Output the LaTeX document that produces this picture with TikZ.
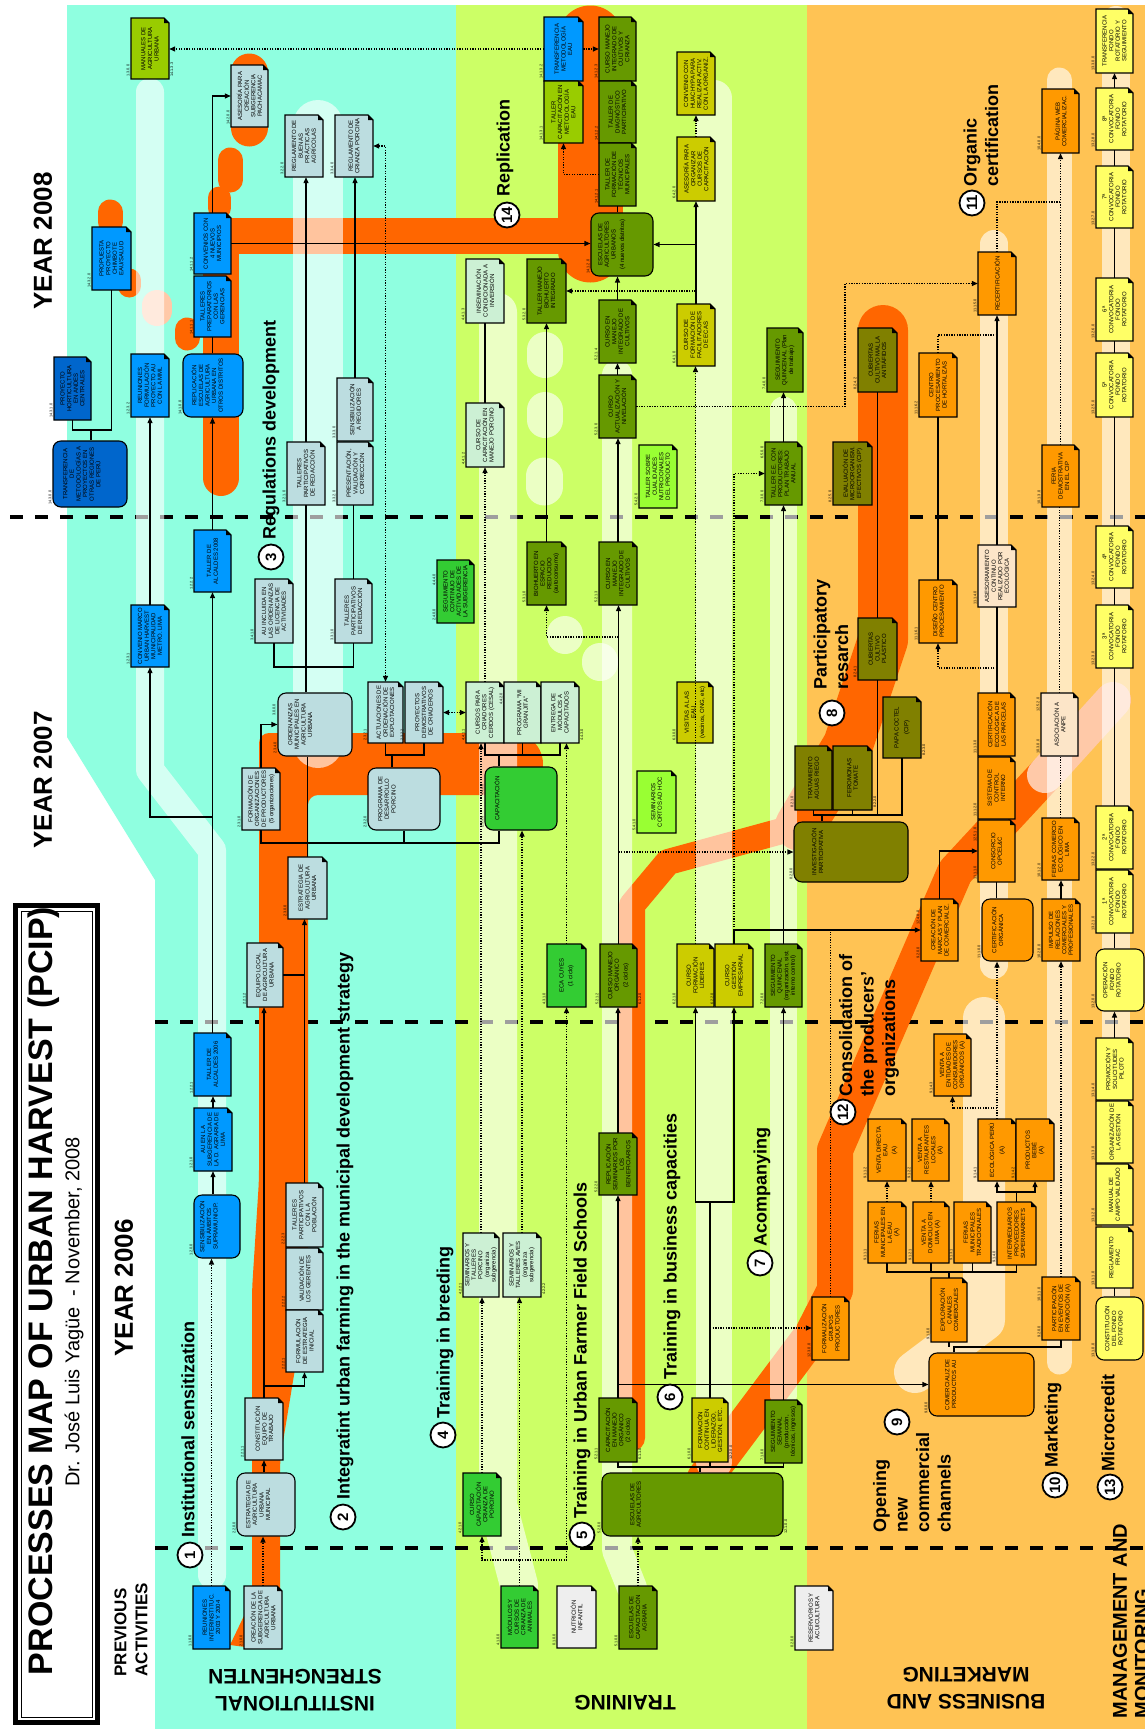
\documentclass[tikz,border=0pt]{standalone}
\usepackage{fontspec}
\setmainfont{Liberation Sans}
\usepackage{graphicx}
\usetikzlibrary{arrows.meta,calc}

\definecolor{bgC}{HTML}{8FFFE0}
\definecolor{bgG}{HTML}{CCFF66}
\definecolor{bgO}{HTML}{FFC354}
\definecolor{band}{HTML}{FF6600}
\definecolor{peachband}{HTML}{FFC9A8}
\definecolor{cBL}{HTML}{0099FF}
\definecolor{cDB}{HTML}{0066CC}
\definecolor{cLB}{HTML}{BCDDE0}
\definecolor{cMI}{HTML}{CCF0D4}
\definecolor{cGR}{HTML}{33CC33}
\definecolor{cOG}{HTML}{669900}
\definecolor{cYG}{HTML}{99CC00}
\definecolor{cYO}{HTML}{CCCC00}
\definecolor{cLG}{HTML}{99FF33}
\definecolor{cOL}{HTML}{808000}
\definecolor{cOR}{HTML}{FF9900}
\definecolor{cPE}{HTML}{FCE5C8}
\definecolor{cLY}{HTML}{FFFF66}
\definecolor{cGY}{HTML}{EEEEEE}

\newcommand{\bxfont}{\fontsize{6}{6.6}\selectfont}
\newcommand{\idfont}{\fontsize{3.8}{4}\selectfont}

\tikzset{
  con/.style={line width=1.2pt, black},
  arr/.style={con, -{Triangle[length=6pt,width=5pt]}},
  dotl/.style={line width=1.3pt, black, dash pattern=on 1.3pt off 1.3pt},
  darr/.style={dotl, -{Triangle[length=6pt,width=5pt]}},
  ddarr/.style={dotl, {Triangle[length=6pt,width=5pt]}-{Triangle[length=6pt,width=5pt]}},
  orb/.style={draw=band, line cap=round, line join=round},
  strip/.style={draw=white, draw opacity=0.62, line cap=round, line join=round},
  yearsep/.style={line width=4pt, dash pattern=on 13pt off 12pt},
  plab/.style={rotate=90, inner sep=0, font=\fontsize{18}{21.5}\selectfont\bfseries},
  numc/.style={circle, draw, line width=1.8pt, fill=white, minimum size=25pt, inner sep=0, font=\fontsize{15}{15}\selectfont\bfseries, rotate=90},
  idl/.style={rotate=90, anchor=south west, inner sep=0.3pt, font=\idfont},
  idr/.style={rotate=90, anchor=north west, inner sep=0.3pt, font=\idfont},
  yearlab/.style={rotate=90, font=\fontsize{26}{26}\selectfont\bfseries},
}

% box with folded corner: name, x1, y1, x2, y2, fill, text, id
\newcommand{\bx}[8]{%
  \filldraw[fill=#6, draw=black, line width=1.1pt] (#2,#3) -- ({#4-5},#3) -- (#4,{#3+5}) -- (#4,#5) -- (#2,#5) -- cycle;
  \fill[black] ({#4-5},#3) -- ({#4-5},{#3+5}) -- (#4,{#3+5}) -- cycle;
  \node[inner sep=0, minimum width={(#4-#2)*1pt}, minimum height={(#5-#3)*1pt}] (#1) at ({(#2+#4)/2},{(#3+#5)/2}) {\rotatebox{90}{\parbox{\dimexpr #5pt-#3pt-2pt\relax}{\centering\bxfont #7}}};
  \node[idl] (#1-id) at ({#2-1},{#5-2}) {#8};
}
% rounded box: name, x1, y1, x2, y2, fill, text, id, text offset
\newcommand{\rbx}[9]{%
  \node[draw=black, fill=#6, line width=1.1pt, rounded corners=8pt, inner sep=0, minimum width={(#4-#2)*1pt}, minimum height={(#5-#3)*1pt}] (#1) at ({(#2+#4)/2},{(#3+#5)/2}) {};
  \node[anchor=west, inner sep=0] (#1-t) at ({#2+#9},{(#3+#5)/2}) {\rotatebox{90}{\parbox{\dimexpr #5pt-#3pt-6pt\relax}{\centering\bxfont #7}}};
  \node[idl] (#1-id) at ({#2-1},{#5-2}) {#8};
}

\begin{document}
\begin{tikzpicture}[x=1pt,y=-1pt]
\useasboundingbox (0,0) rectangle (1145,1729);
\fill[white] (0,0) rectangle (1145,1729);
% ---------- background bands
\fill[bgC] (67,5) -- (456,5) -- (456,1729) -- (155,1729) -- (155,880) -- (67,737) -- cycle;
\fill[bgG] (456,5) rectangle (807,1729);
\fill[bgO] (807,5) rectangle (1145,1729);

% ---------- year separators
\draw[yearsep] (10,517) -- (1145,517);
\draw[yearsep] (155,1022) -- (1145,1022);
\draw[yearsep] (155,1548) -- (1145,1548);

% ---------- orange process bands
% (2) integrating
\fill[band, rounded corners=10pt] (252,1648) -- (252,1290) -- (259,1180) -- (259,733) -- (512,733) -- (512,795) -- (308,795) -- (308,1290) -- (280,1460) -- (280,1648) -- cycle;
\draw[orb, line width=62pt] (505,764) -- (512,764);
\fill[band] (230,1645) -- (253,1597) -- (253,1648) -- cycle;
% (14) replication
\draw[orb, line width=36pt] (221,478) -- (221,236) -- (590,236);
\draw[orb, line width=65pt] (590,250) -- (590,38);
\draw[orb, line width=25pt] (110,212) -- (110,222);
\draw[orb, line width=23pt] (129,280) -- (129,286);
\draw[draw=peachband, line cap=round, line width=30pt] (157,305) -- (157,311);
\draw[orb, line width=25pt] (187,330) -- (187,338);
\draw[orb, line width=23pt] (219,198) -- (219,208);
\draw[orb, line width=25pt] (230,160) -- (230,180);
\draw[orb, line width=37pt] (249,72) -- (249,128);
% (5)/(8) training -> participatory research
\draw[orb, line width=26pt] (632,1438) -- (632,905) -- (668,862) -- (800,826);
\draw[orb, line width=50pt] (800,826) -- (848,745) -- (883,640) -- (883,330);
% (6)/(12) business capacities -> consolidation
\draw[orb, line width=36pt] (705,1478) -- (812,1335) -- (835,1290) -- (835,1150) -- (955,872) -- (1045,775);
\draw[draw=peachband, line cap=round, line width=36pt] (1045,775) -- (1113,700);

% ---------- light strips
\draw[strip, line width=28pt] (150,92) -- (150,770) -- (212,850) -- (212,1575);
\draw[strip, line width=50pt] (318,125) -- (318,743);
\draw[strip, line width=38pt] (498,312) -- (498,1505) -- (519,1585);
\draw[strip, line width=30pt] (617,375) -- (617,1550) -- (632,1588);
\draw[strip, line width=36pt] (714,98) -- (714,1462);
\draw[strip, line width=27pt] (783,410) -- (783,1395);
\draw[strip, line width=28pt] (994,244) -- (994,965);
\draw[strip, line width=42pt] (984,1018) -- (984,1320) -- (915,1372);
\draw[strip, line width=25pt] (1059,80) -- (1059,1362);
\draw[strip, line width=28pt] (1116,20) -- (1116,1295);
\draw[strip, line width=36pt] (545,350) -- (545,360);
\draw[strip, line width=36pt] (545,410) -- (545,420);
\draw[strip, line width=37pt] (544,476) -- (544,487);
\draw[strip, line width=36pt] (565,634) -- (565,636);
\draw[strip, line width=36pt] (600,661) -- (600,663);

% ---------- title panel
\draw[line width=5pt] (15.5,905.5) rectangle (97.5,1722.5);
\draw[line width=0.8pt] (21,911) rectangle (92,1717);
\node[rotate=90, font=\fontsize{34}{34}\selectfont\bfseries] (title) at (44,1291) {PROCESSES MAP OF URBAN HARVEST (PCIP)};
\node[rotate=90, font=\fontsize{20}{20}\selectfont] (subtitle) at (74,1312) {Dr. José Luis Yagüe\ \ - November, 2008};
\node[yearlab] (y08) at (43,241) {YEAR 2008};
\node[yearlab] (y07) at (43,780) {YEAR 2007};
\node[yearlab] (y06) at (124,1288) {YEAR 2006};
\node[rotate=90, anchor=west, align=left, font=\fontsize{17}{21}\selectfont\bfseries] (prev) at (131,1680) {PREVIOUS\\ACTIVITIES};

% ---------- boxes: institutional
\bx{manu}{131}{18}{169}{79}{cYG}{MANUALES DE\\AGRICULTURA\\URBANA}{1.3.0.0}
\bx{ases}{231}{65}{268}{127}{cLB}{ASESORÍA PARA\\CREACIÓN\\SUBGERENCIA\\PACHACAMAC}{14.2.0.0}
\bx{rbpa}{285}{115}{323}{177}{cLB}{REGLAMENTO DE\\BUENAS\\PRÁCTICAS\\AGRÍCOLAS}{3.2.2.0}
\bx{rcp}{335}{115}{373}{177}{cLB}{REGLAMENTO DE\\CRIANZA PORCINA}{3.3.4.0}
\bx{prop}{92}{227}{131}{290}{cBL}{PROPUESTA\\PROYECTO\\CHIMBOTE\\EAU/SALUD}{14.3.2.0}
\bx{phor}{54}{357}{91}{420}{cDB}{PROYECTO\\HORTICULTURA\\EN ANDES\\CENTRALES}{14.3.1.0}
\bx{reuf}{131}{354}{169}{417}{cBL}{REUNIONES\\FORMULACIÓN\\PROYECTO AU\\CON LA MML}{1.2.3.2}
\rbx{repl}{183}{354}{243}{417}{cBL}{REPLICACIÓN\\ESCUELAS DE\\AGRICULTURA\\URBANA EN\\OTROS DISTRITOS}{14.1.0.0}{8}
\bx{tprep}{194}{276}{231}{337}{cBL}{TALLERES\\PREPARATORIOS\\CON LAS\\GERENCIAS}{14.1.1.1}
\bx{conv4}{194}{213}{231}{274}{cBL}{CONVENIOS CON\\4 NUEVOS\\MUNICIPIOS}{14.1.1.2}
\bx{sreg}{337}{378}{373}{441}{cLB}{SENSIBILIZACIÓN\\A REGIDORES}{3.3.3.0}
\rbx{tmet}{53}{441}{127}{507}{cDB}{TRANSFERENCIA\\DE\\METODOLOGÍAS A\\PROYECTOS EN\\OTRAS REGIONES\\DE PERÚ}{14.3.0.0}{10}
\bx{tpr1}{287}{442}{325}{505}{cLB}{TALLERES\\PARTICIPATIVOS\\DE REDACCIÓN}{3.2.1.0}
\bx{pres}{337}{442}{373}{505}{cLB}{PRESENTACIÓN,\\VALIDACIÓN Y\\CORRECCIÓN}{3.3.2.0}
\bx{cmar}{131}{605}{169}{667}{cBL}{CONVENIO MARCO\\URBAN HARVEST\\MUNICIPALIDAD\\METRO. LIMA}{1.2.3.1}
\bx{tal08}{194}{530}{231}{592}{cBL}{TALLER DE\\ALCALDES 2008}{1.2.2.2}
\bx{auinc}{255}{579}{293}{643}{cLB}{AU INCLUIDA EN\\LAS ORDENANZAS\\DE LICENCIA DE\\ACTIVIDADES}{3.4.1.0}
\bx{tpr2}{335}{579}{372}{643}{cLB}{TALLERES\\PARTICIPATIVOS\\DE REDACCIÓN}{3.3.1.0}
\rbx{orde}{278}{693}{352}{756}{cLB}{ORDENANZAS\\MUNICIPALES EN\\AGRICULTURA\\URBANA}{2.3.4.0}{10}
\bx{actu}{368}{682}{403}{743}{cLB}{ACTUACIONES DE\\ORDENACIÓN DE\\EXPLOTACIONES}{2.3.2.1}
\bx{pdem}{405}{682}{443}{743}{cLB}{PROYECTOS\\DEMOSTRATIVOS\\DE CRIADEROS}{2.3.2.2}
\rbx{prog}{368}{768}{440}{830}{cLB}{PROGRAMA DE\\DESARROLLO\\PORCINO}{2.3.2.0}{10}
\bx{form}{242}{768}{280}{830}{cLB}{FORMACIÓN DE\\ORGANIZACIONES\\DE PRODUCTORES\\[1pt](5 organizaciones)}{2.3.1.0}
\bx{estr}{288}{857}{327}{919}{cLB}{ESTRATEGIA DE\\AGRICULTURA\\URBANA}{2.3.0.0}
\bx{eqlo}{247}{943}{283}{1007}{cLB}{EQUIPO LOCAL\\DE AGRICULTURA\\URBANA}{2.2.1.2}
\bx{tal06}{194}{1033}{231}{1096}{cBL}{TALLER DE\\ALCALDES 2006}{1.2.2.1}
\bx{ausub}{194}{1108}{232}{1171}{cBL}{AU EN LA\\SUBGERENCIA DE\\LA D. AGRARIA DE\\LIMA}{1.2.1.0}
\rbx{sens}{194}{1195}{240}{1258}{cBL}{SENSIBILIZACIÓN\\EN ÁMBITOS\\SUPRAMUNICIP.}{1.2.0.0}{5}
\bx{tpob}{286}{1183}{323}{1247}{cLB}{TALLERES\\PARTICIPATIVOS\\CON LA\\POBLACIÓN}{2.2.2.3}
\bx{vger}{286}{1248}{323}{1310}{cLB}{VALIDACIÓN DE\\LOS GERENTES}{2.2.2.2}
\bx{fest}{286}{1310}{323}{1372}{cLB}{FORMULACIÓN\\DE ESTRATEGIA\\INICIAL}{2.2.2.1}
\bx{ceq}{245}{1398}{283}{1460}{cLB}{CONSTITUCIÓN\\EQUIPO DE\\TRABAJO}{2.2.1.1}
\rbx{eaum}{237}{1473}{295}{1536}{cLB}{ESTRATEGIA DE\\AGRICULTURA\\URBANA\\MUNICIPAL}{2.2.0.0}{9}
\bx{reun}{193}{1586}{230}{1649}{cBL}{REUNIONES\\INTERINSTITUC.\\2003 Y 2004}{1.1.0.0}
\bx{csub}{244}{1586}{282}{1649}{cLB}{CREACIÓN DE LA\\SUBGERENCIA DE\\AGRICULTURA\\URBANA}{2.1.0.0}

% ---------- boxes: training
\bx{tmeau}{544}{17}{583}{81}{cBL}{TRANSFERENCIA\\METODOLOGÍA\\EAU}{14.1.3.2}
\bx{tcap}{544}{81}{583}{143}{cYG}{TALLER\\CAPACITACIÓN EN\\METODOLOGÍA\\EAU}{14.1.3.1}
\bx{cmic}{599}{17}{636}{81}{cOG}{CURSO MANEJO\\INTEGRADO DE\\CULTIVOS Y\\CRIANZA}{14.1.2.3}
\bx{tdia}{599}{81}{636}{143}{cOG}{TALLER DE\\DIAGNÓSTICO\\PARTICIPATIVO}{14.1.2.2}
\bx{tfor}{599}{143}{636}{206}{cOG}{TALLER DE\\FORMACIÓN DE\\TÉCNICOS\\MUNICIPALES}{14.1.2.1}
\rbx{esc4}{591}{213}{653}{276}{cOG}{ESCUELAS DE\\AGRICULTORES\\URBANOS\\[2pt](4 nuevos distritos)}{14.1.2.0}{7}
\bx{chua}{677}{52}{715}{115}{cYO}{CONVENIO CON\\HUACHYPA PARA\\REALIZAR ACTIV.\\CON LA ORGANIZ.}{}
\bx{aorg}{677}{137}{715}{201}{cYO}{ASESORÍA PARA\\ORGANIZAR\\CURSOS DE\\CAPACITACIÓN}{6.4.2.0}
\bx{insem}{466}{259}{504}{323}{cMI}{INSEMINACIÓN\\CONDICIONADA A\\INVERSIÓN}{4.4.1.3}
\bx{tbio}{527}{259}{566}{323}{cOG}{TALLER MANEJO\\BIOHUERTO\\INTEGRADO}{5.3.2.0}
\bx{cmi4}{599}{300}{636}{363}{cOG}{CURSO EN\\MANEJO\\INTEGRADO DE\\CULTIVOS}{5.2.1.4}
\bx{cfac}{677}{304}{715}{366}{cYO}{CURSO DE\\FORMACIÓN DE\\FACILITADORES\\DE ECAS}{6.4.1.0}
\bx{squi}{767}{328}{803}{392}{cOG}{SEGUIMIENTO\\QUINCENAL (Plan\\de trabajo)}{7.4.0.0}
\bx{ccmp}{466}{403}{504}{467}{cMI}{CURSO DE\\CAPACITACIÓN EN\\MANEJO PORCINO}{4.4.1.2}
\bx{cact}{599}{375}{636}{438}{cOG}{CURSO\\ACTUALIZACIÓN Y\\NIVELACIÓN}{5.2.3.0}
\bx{tcual}{639}{445}{677}{508}{cLG}{TALLER SOBRE\\CUALIDADES\\NUTRICIONALES\\DEL PRODUCTO}{5.4.2.0}
\bx{tee}{765}{442}{802}{505}{cOG}{TALLER E.E. CON\\PRODUCTORES:\\PLAN TRABAJO\\ANUAL}{7.3.0.0}
\bx{scont}{437}{560}{474}{623}{cGR}{SEGUIMIENTO\\CONTINUO DE\\ACTIVIDADES DE\\LA SUBGERENCIA}{2.4.0.0}
\bx{bioe}{527}{542}{566}{605}{cOG}{BIOHUERTO EN\\ESPACIO\\REDUCIDO\\(autoconsumo)}{5.3.1.0}
\bx{cmi3}{599}{542}{637}{605}{cOG}{CURSO EN\\MANEJO\\INTEGRADO DE\\CULTIVOS}{5.2.1.3}
\bx{ccria}{466}{682}{504}{743}{cMI}{CURSOS PARA\\CRIADORES\\CERDOS (CESAL)}{4.4.1.1}
\bx{mgran}{504}{682}{541}{743}{cMI}{PROGRAMA ``MI\\GRANJITA''}{}
\bx{entr}{541}{682}{579}{743}{cMI}{ENTREGA DE\\MÓDULOS A\\CAPACITADOS}{}
\rbx{capa}{485}{767}{557}{830}{cGR}{CAPACITACIÓN}{2.3.3.0}{9}
\bx{visi}{677}{682}{713}{743}{cYO}{VISITAS A LAS\\EAU\\[2pt](vecinos, ONG, etc)}{6.3.0.0}
\bx{semc}{637}{771}{676}{833}{cLG}{SEMINARIOS\\CORTOS AD HOC}{5.4.1.0}
\bx{ecac}{547}{944}{586}{1007}{cGR}{ECA CUYES\\[2pt](1 ciclo)}{4.3.1.0}
\bx{cmor}{600}{944}{637}{1007}{cOG}{CURSO MANEJO\\ORGÁNICO\\[2pt](2 ciclos)}{5.2.1.2}
\bx{cfl}{677}{944}{714}{1007}{cYO}{CURSO\\FORMACIÓN\\LÍDERES}{6.2.1.0}
\bx{cge}{715}{944}{753}{1007}{cYO}{CURSO\\GESTIÓN\\EMPRESARIAL}{}
\bx{sq2}{765}{944}{802}{1007}{cOG}{SEGUIMIENTO\\QUINCENAL\\(organización, sist.\\interno control)}{7.2.0.0}
\bx{rsem}{599}{1133}{637}{1195}{cOG}{REPLICACIÓN\\SEMINARIOS POR\\LOS\\BENEFICIARIOS}{5.2.2.0}
\bx{spor}{463}{1233}{499}{1297}{cMI}{SEMINARIOS Y\\TALLERES\\PORCINO\\(organiza\\subgerencia)}{4.2.2.1}
\bx{save}{503}{1233}{541}{1297}{cMI}{SEMINARIOS Y\\TALLERES AVES\\(organiza\\subgerencia)}{}
\bx{cmo2}{599}{1398}{637}{1462}{cOG}{CAPACITACIÓN\\EN MANEJO\\ORGÁNICO\\(2 ciclos)}{5.2.1.1}
\bx{fcon}{692}{1398}{728}{1462}{cYO}{FORMACIÓN\\CONTINUA EN\\LIDERAZGO,\\GESTIÓN, ETC.}{6.1.0.0}
\bx{ssem}{765}{1400}{802}{1463}{cOG}{SEGUIMIENTO\\SEMANAL\\(producción,\\técnicas, ingresos)}{7.1.0.0}
\rbx{eagr}{602}{1473}{783}{1536}{cOG}{ESCUELAS DE\\AGRICULTORES}{5.2.0.0}{28}
\bx{ccpor}{463}{1473}{501}{1536}{cGR}{CURSO\\CAPACITACIÓN\\CRIANZA DE\\PORCINO}{4.2.1.0}
\bx{modu}{501}{1586}{538}{1648}{cGR}{MÓDULOS Y\\CURSOS DE\\CRIANZA DE\\ANIMALES}{4.1.0.0}
\bx{nutr}{557}{1586}{596}{1648}{cGY}{NUTRICIÓN\\INFANTIL}{0.1.0.0}
\bx{ecag}{619}{1586}{657}{1649}{cOG}{ESCUELAS DE\\CAPACITACIÓN\\AGRARIA}{5.1.0.0}

% ---------- boxes: business and marketing
\bx{trat}{795}{746}{832}{810}{cOL}{TRATAMIENTO\\AGUAS RIEGO}{8.2.1.0}
\bx{fero}{833}{746}{872}{810}{cOL}{FEROMONAS\\TOMATE}{}
\bx{papa}{883}{697}{921}{758}{cOL}{PAPA COCTEL\\[3pt](CIP)}{}
\rbx{inve}{794}{822}{908}{882}{cOL}{INVESTIGACIÓN\\PARTICIPATIVA}{8.2.0.0}{17}
\bx{cpla}{858}{618}{897}{680}{cOL}{CUBIERTAS\\CULTIVO\\PLÁSTICO}{8.2.4.1}
\bx{cmal}{858}{328}{897}{392}{cOL}{CUBIERTAS\\CULTIVO MALLA\\ANTIÁFIDOS}{8.2.4.2}
\bx{evmi}{833}{442}{872}{505}{cOL}{EVALUACIÓN DE\\MICROORGANISM.\\EFECTIVOS (CIP)}{8.2.5.0}
\bx{dcen}{919}{580}{957}{643}{cOR}{DISEÑO CENTRO\\PROCESAMIENTO}{11.1.6.1}
\bx{cpro}{919}{353}{957}{417}{cOR}{CENTRO\\PROCESAMIENTO\\DE HORTALIZAS}{11.1.6.2}
\bx{asec}{978}{545}{1016}{607}{cPE}{ASESORAMIENTO\\CONTINUO\\REALIZADO POR\\ECOLÓGICA}{11.1.4.0}
\bx{rcer}{978}{252}{1016}{315}{cOR}{RECERTIFICACIÓN}{11.1.5.0}
\bx{pweb}{1042}{89}{1079}{153}{cOR}{PÁGINA WEB\\COMERCIALIZAC.}{10.4.0.0}
\bx{fdem}{1042}{445}{1079}{507}{cOR}{FERIA\\DEMOSTRATIVA\\EN EL CIP}{10.1.3.0}
\bx{tfon}{1096}{9}{1133}{73}{cLY}{TRANSFERENCIA\\FONDO\\ROTATORIO Y\\SEGUIMIENTO}{13.3.0.0}
\bx{c8}{1096}{88}{1133}{150}{cLY}{8ª\\CONVOCATORIA\\FONDO\\ROTATORIO}{13.2.8.0}
\bx{c7}{1096}{166}{1133}{228}{cLY}{7ª\\CONVOCATORIA\\FONDO\\ROTATORIO}{13.2.7.0}
\bx{c6}{1096}{278}{1133}{341}{cLY}{6ª\\CONVOCATORIA\\FONDO\\ROTATORIO}{13.2.6.0}
\bx{c5}{1096}{353}{1133}{417}{cLY}{5ª\\CONVOCATORIA\\FONDO\\ROTATORIO}{13.2.5.0}
\bx{c4}{1096}{526}{1133}{588}{cLY}{4ª\\CONVOCATORIA\\FONDO\\ROTATORIO}{13.2.4.0}
\bx{c3}{1096}{605}{1133}{668}{cLY}{3ª\\CONVOCATORIA\\FONDO\\ROTATORIO}{13.2.3.0}
\bx{c2}{1096}{806}{1133}{869}{cLY}{2ª\\CONVOCATORIA\\FONDO\\ROTATORIO}{13.2.2.0}
\bx{c1}{1096}{870}{1133}{933}{cLY}{1ª\\CONVOCATORIA\\FONDO\\ROTATORIO}{13.2.1.0}
\bx{cert}{978}{693}{1015}{756}{cOR}{CERTIFICACIÓN\\ECOLÓGICA DE\\LAS PARCELAS}{11.1.3.0}
\bx{sist}{978}{757}{1015}{819}{cOR}{SISTEMA DE\\CONTROL\\INTERNO}{11.1.2.0}
\bx{cons}{978}{820}{1015}{882}{cOR}{CONSORCIO\\OPCEL\&C}{11.1.1.0}
\bx{anpe}{1041}{693}{1078}{756}{cPE}{ASOCIACIÓN A\\ANPE}{10.3.0.0}
\bx{fcel}{1042}{818}{1079}{880}{cOR}{FERIAS COMERCIO\\ECOLÓGICO EN\\LIMA}{10.1.2.0}
\rbx{corg}{982}{899}{1033}{961}{cOR}{CERTIFICACIÓN\\ORGÁNICA}{11.1.0.0}{9}
\bx{impu}{1042}{899}{1080}{961}{cOR}{IMPULSO DE\\RELACIONES\\COMERCIALES Y\\PROFESIONALES}{10.2.0.0}
\bx{cmar2}{921}{899}{958}{961}{cOR}{CREACIÓN DE\\MARCAS Y PLAN\\DE COMERCIALIZ.}{9.2.0.0}
\rbx{opf}{1096}{949}{1144}{1011}{cLY}{OPERACIÓN\\FONDO\\ROTATORIO}{13.2.0.0}{6}
\bx{vent}{934}{1034}{971}{1096}{cOR}{VENTA A\\ENTIDADES DE\\CONSUMIDORES\\ORGÁNICOS (A)}{9.1.4.3}
\bx{vdir}{868}{1119}{906}{1181}{cOR}{VENTA DIRECTA\\EAU\\[2pt](A)}{9.1.1.2}
\bx{vres}{912}{1119}{949}{1181}{cOR}{VENTA A\\RESTAURANTES\\LOCALES\\(A)}{9.1.2.2}
\bx{ecop}{978}{1119}{1016}{1181}{cOR}{ECOLÓGICA PERÚ\\[3pt](A)}{9.1.4.1}
\bx{pbeb}{1016}{1119}{1054}{1181}{cOR}{PRODUCTOS\\BEBÉ\\(A)}{}
\bx{fmeau}{868}{1202}{906}{1263}{cOR}{FERIAS\\MUNICIPALES EN\\LA EAU\\(A)}{9.1.1.1}
\bx{vdom}{913}{1202}{949}{1263}{cOR}{VENTA A\\DOMICILIO EN\\LIMA (A)}{9.1.2.1}
\bx{fmtr}{954}{1202}{991}{1263}{cOR}{FERIAS\\MUNICIPALES\\TRADICIONALES}{9.1.3.1}
\bx{inte}{997}{1202}{1036}{1265}{cOR}{INTERMEDIARIOS\\PROVEEDORES\\SUPERMARKETS}{9.1.4.0}
\bx{prom}{1096}{1038}{1133}{1100}{cLY}{PROMOCIÓN Y\\SOLICITUDES\\PILOTO}{13.1.4.0}
\bx{orgg}{1096}{1101}{1133}{1163}{cLY}{ORGANIZACIÓN DE\\LA GESTIÓN}{13.1.3.0}
\bx{manc}{1096}{1164}{1133}{1225}{cLY}{MANUAL DE\\CAMPO VALIDADO}{13.1.2.0}
\bx{rfra}{1096}{1227}{1133}{1288}{cLY}{REGLAMENTO\\FRAC}{13.1.1.0}
\bx{expl}{931}{1278}{967}{1342}{cOR}{EXPLORACIÓN\\CANALES\\COMERCIALES}{9.1.0.0}
\bx{part}{1042}{1277}{1080}{1340}{cOR}{PARTICIPACIÓN\\EN EVENTOS DE\\PROMOCIÓN (A)}{9.2.0.0}
\rbx{cfr}{1096}{1297}{1143}{1360}{cLY}{CONSTITUCIÓN\\DEL FONDO\\ROTATORIO}{13.1.0.0}{8}
\rbx{comp}{929}{1353}{1034}{1416}{cOR}{COMERCIALIZ DE\\PRODUCTOS AU}{9.0.0.0}{16}
\bx{fgru}{812}{1297}{849}{1360}{cOR}{FORMALIZACIÓN\\GRUPOS\\PRODUCTORES}{12.3.0.0}
\bx{rese}{795}{1586}{833}{1650}{cGY}{RESERVORIOS Y\\ACUICULTURA}{0.2.0.0}

% extra identifiers
\node[idr] (xid1) at (170,77) {14.1.3.3};
\node[idl] (xid2) at (276,716) {3.0.0.0};
\node[idl] (xid3) at (484,796) {4.4.0.0};
\node[idl] (xid4) at (436,586) {4.4.4.0};
\node[idr] (xid5) at (580,741) {4.4.3.0};
\node[idr] (xid6) at (542,1295) {4.2.2.2};
\node[idr] (xid7) at (638,1005) {6.1.2.0};
\node[idr] (xid8) at (638,1460) {6.1.1.0};
\node[idr] (xid9) at (729,1460) {12.2.0.0};
\node[idr] (xid10) at (784,1534) {12.1.0.0};
\node[idl] (xid11) at (764,459) {6.5.0.0};
\node[idr] (xid12) at (873,808) {8.2.2.0};
\node[idr] (xid13) at (922,756) {8.2.3.0};
\node[idl] (xid14) at (977,842) {12.5.1.0};
\node[idl] (xid15) at (1040,712) {12.5.2.0};
\node[idl] (xid16) at (920,925) {12.4.0.0};
\node[idl] (xid17) at (1041,1302) {10.1.1.0};
\node[idl] (xid18) at (503,705) {4.4.2.0};
\node[idl] (xid19) at (714,1005) {6.2.2.0};
\node[idl] (xid20) at (1015,1179) {9.1.4.2};

% ---------- connectors: institutional
\coordinate (jT) at (91,430);
\draw[con] (phor.south) |- (jT) -| (prop.south);
\draw[con] (jT) -- (jT |- tmet.north);
\draw[arr] (cmar.north) -- (cmar.north |- reuf.south);
\draw[arr] (tal08.north) -- (tal08.north |- repl.south);
\draw[con] (repl.north -| tprep.south) -- (tprep.south);
\draw[arr] (conv4.east) -- (conv4.east -| esc4.west);
\draw[arr] (conv4.north) |- (ases.west);
\draw[arr] (tal06.north) -- (tal06.north |- tal08.south);
\coordinate (jC1) at (212.5,817);
\draw[arr] (jC1) -| (cmar.south);
\draw[arr] (ausub.north) -- (ausub.north |- tal06.south);
\draw[arr] (sens.north -| ausub.south) -- (ausub.south);
\draw[darr] (reun.north) -- (reun.north |- sens.south);
\draw[darr] (csub.north) -- (csub.north |- eaum.south);
\draw[arr] (eaum.north -| ceq.south) -- (ceq.south);
\draw[arr] (ceq.north) -- (ceq.north |- eqlo.south);
\coordinate (jI1) at (264,1386);
\draw[arr] (jI1) -| (fest.south);
\draw[arr] (tpob.north) -- (tpob.north |- estr.south);
\draw[con] (eqlo.east) -- (eqlo.east -| tpob.north);
\coordinate (jB) at (261,843);
\coordinate (jC) at (499,843);
\draw[con] (form.south) -- (form.south |- jB) -- (jC) -- (jC |- capa.south);
\draw[con] (prog.south) -- (prog.south |- jB);
\draw[con] (estr.north) -- (estr.north |- orde.south);
\draw[arr] (form.north) |- (orde.west);
\coordinate (jR) at (306,667);
\draw[con] (auinc.south) |- (jR) -| (tpr2.south);
\draw[con] (jR |- orde.north) -- (jR) -- (jR |- tpr1.south);
\draw[arr] (tpr1.north) -- (tpr1.north |- rbpa.south);
\draw[con] (tpr2.north) -- (tpr2.north |- pres.south);
\draw[arr] (sreg.north) -- (sreg.north |- rcp.south);
\draw[ddarr] (rcp.east) -| (actu.north);
\coordinate (jP) at (392,755);
\draw[con] (actu.south) |- (jP) -| (pdem.south);
\draw[con] (jP) -- (jP |- prog.north);
\draw[ddarr] (pdem.east) -- (pdem.east -| ccria.west);

% ---------- connectors: training
\coordinate (jK) at (499,755);
\draw[con] (ccria.south) |- (jK) -| (entr.south);
\draw[con] (mgran.south) -- (mgran.south |- jK);
\draw[con] (jK) -- (jK |- capa.north);
\draw[darr] (save.north) -- (save.north |- capa.south);
\draw[darr] (spor.north) -- (spor.north |- ccria.south);
\draw[darr] (ecac.north) -- (ecac.north |- entr.south);
\draw[darr] (ccria.north) -- (ccria.north |- ccmp.south);
\draw[con] (ccmp.north) -- (ccmp.north |- insem.south);
\draw[darr] (tfor.west) -| (tcap.south);
\draw[con] (esc4.north -| tfor.south) -- (tfor.south);
\draw[darr] (tmeau.west) -- (tmeau.west -| manu.east);
\draw[darr] (tmeau.east) -- (tmeau.east -| cmic.west);
\draw[arr] (cmi4.north) -- (cmi4.north |- esc4.south);
\draw[arr] (cact.north) -- (cact.north |- cmi4.south);
\draw[arr] (cmi3.north) -- (cmi3.north |- cact.south);
\draw[arr] (cfac.north) -- (cfac.north |- aorg.south);
\draw[darr] (aorg.north) -- (aorg.north |- chua.south);
\coordinate (jE) at (696,244.5);
\draw[arr] (jE) -- (jE -| esc4.east);
\draw[darr] (cfl.north) -- (cfl.north |- cfac.south);
\draw[darr] (cfl.north |- tbio.east) -- (tbio.east);
\draw[arr] (bioe.north) -- (bioe.north |- tbio.south);
\draw[arr] (tee.north) -- (tee.north |- squi.south);
\draw[arr] (sq2.north) -- (sq2.north |- tee.south);
\coordinate (jQ) at (845,406.5);
\draw[darr] (cact.east) -- (jQ) |- (rcer.west);
\draw[arr] (cmor.north) -- (cmor.north |- cmi3.south);
\coordinate (jM1) at (618.5,637);
\draw[darr] (jM1) -| (bioe.south);
\coordinate (jM2) at (618.5,852);
\draw[darr] (jM2) -- (jM2 -| inve.west);
\draw[arr] (rsem.north) -- (rsem.north |- cmor.south);
\draw[arr] (cmo2.north) -- (cmo2.north |- rsem.south);
\coordinate (jM3) at (618,1384.5);
\draw[arr] (jM3) -- (jM3 -| comp.west);
\coordinate (jS) at (700,1467);
\draw[con] (cmo2.south) |- (jS) -| (ssem.south);
\draw[con] (fcon.south) -- (fcon.south |- jS);
\draw[con] (jS) -- (jS |- eagr.north);
\draw[darr] (ecag.north) -- (ecag.north |- eagr.south);
\coordinate (jL) at (710,1202);
\draw[arr] (jL) -| (cfl.south);
\draw[arr] (jL) -| (cge.south);
\draw[con] (fcon.north) -- (fcon.north |- jL);
\coordinate (jF) at (710,1328);
\draw[darr] (jF) -- (jF -| fgru.west);
\draw[arr] (ssem.north) -- (ssem.north |- sq2.south);
\coordinate (jG) at (734,930);
\draw[arr] (cge.north) |- (cmar2.west);
\draw[darr] (cge.north |- jG) |- (tee.west);
\draw[dotl] (fgru.north) -- (fgru.north |- jG);
\draw[darr] (ccpor.north) -- (ccpor.north |- spor.south);
\draw[darr] (modu.north) -- (modu.north |- save.south);
\coordinate (jN) at (519.5,1560);
\draw[darr] (jN) -| (ccpor.south);
\draw[darr] (jN) -| (ecac.south);

% ---------- connectors: business
\coordinate (jV) at (822,815);
\draw[con] (trat.south) |- (jV) -| (fero.south);
\draw[con] (jV) -- (jV |- inve.north);
\draw[con] (fero.south |- jV) -| (papa.south);
\draw[con] (cpla.south) -- (cpla.south |- jV);
\draw[con] (cpla.north) -- (cpla.north |- cmal.south);
\coordinate (jW) at (997,335);
\draw[dotl] (cpro.north) |- (jW);
\draw[arr] (asec.north) -- (asec.north |- rcer.south);
\draw[con] (cpro.south) -- (cpro.south |- dcen.north);
\coordinate (jX) at (997,668);
\draw[darr] (jX) -| (dcen.south);
\draw[con] (asec.south) -- (asec.south |- cert.north);
\draw[con] (corg.north -| cons.south) -- (cons.south);
\draw[arr] (cmar2.north) |- (cons.west);
\draw[darr] (ecop.north) -- (ecop.north |- corg.south);
\coordinate (jY) at (997,1108);
\draw[darr] (jY) -| (vent.south);
\draw[darr] (fmeau.north) -- (fmeau.north |- vdir.south);
\draw[darr] (vdom.north) -- (vdom.north |- vres.south);
\coordinate (jZ) at (1016.5,1192);
\draw[con] (inte.north) -- (jZ);
\draw[arr] (jZ) -| (ecop.south);
\draw[arr] (jZ) -| (pbeb.south);
\coordinate (jU) at (949,1272);
\draw[con] (fmeau.south) |- (jU) -| (inte.south);
\draw[con] (vdom.south) -- (vdom.south |- jU);
\draw[con] (fmtr.south) -- (fmtr.south |- jU);
\draw[con] (jU) -- (jU |- expl.north);
\coordinate (jH) at (954,1347);
\draw[con] (jH |- comp.north) -- (jH) -| (part.south);
\draw[con] (expl.south) -- (expl.south |- jH);
\draw[darr] (part.north) -- (part.north |- impu.south);
\draw[arr] (impu.north) -- (impu.north |- fcel.south);
\draw[dotl] (fcel.north) -- (fcel.north |- anpe.south);
\draw[dotl] (anpe.north) -- (anpe.north |- fdem.south);
\draw[darr] (fdem.north) -- (fdem.north |- pweb.south);
\coordinate (jJ) at (1060.5,202);
\draw[dotl] (rcer.north) |- (jJ);
\draw[con] (cfr.north -| rfra.south) -- (rfra.south);
\draw[arr] (prom.north) -- (prom.north |- opf.south);
\draw[con] (opf.north -| c1.south) -- (c1.south);
\draw[con] (c2.north) -- (c2.north |- c3.south);
\draw[con] (c3.north) -- (c3.north |- c4.south);
\draw[con] (c4.north) -- (c4.north |- c5.south);
\draw[con] (c5.north) -- (c5.north |- c6.south);
\draw[con] (c6.north) -- (c6.north |- c7.south);
\draw[con] (c7.north) -- (c7.north |- c8.south);
\draw[arr] (c8.north) -- (c8.north |- tfon.south);

% ---------- process labels
\node[numc] (n1) at (190,1555) {1};
\node[plab, anchor=west] (l1) at (188,1538) {Institutional sensitization};
\node[numc] (n2) at (343,1517) {2};
\node[plab, anchor=west] (l2) at (345,1500) {Integratint urban farming in the municipal development strategy};
\node[numc] (n3) at (271,557) {3};
\node[plab, anchor=west] (l3) at (271,540) {Regulations development};
\node[numc] (n4) at (443,1435) {4};
\node[plab, anchor=west] (l4) at (445,1419) {Training in breeding};
\node[numc] (n5) at (582,1535) {5};
\node[plab, anchor=west] (l5) at (582,1519) {Training in Urban Farmer Field Schools};
\node[numc] (n6) at (670,1397) {6};
\node[plab, anchor=west] (l6) at (672,1380) {Training in business capacities};
\node[numc] (n7) at (760,1263) {7};
\node[plab, anchor=west] (l7) at (762,1247) {Acompanying};
\node[numc] (n8) at (832,713) {8};
\node[plab, anchor=west, align=left] (l8) at (831,690) {Participatory\\resarch};
\node[numc] (n9) at (897,1422) {9};
\node[plab, anchor=west, align=left] (l9) at (912,1533) {Opening\\new\\commercial\\channels};
\node[numc] (n10) at (1055,1485) {10};
\node[plab, anchor=west] (l10) at (1053,1468) {Marketing};
\node[numc] (n11) at (972,203) {11};
\node[plab, anchor=west, align=left] (l11) at (981,187) {Organic\\certification};
\node[numc] (n12) at (843,1112) {12};
\node[plab, anchor=west, align=left] (l12) at (869,1097) {Consolidation of\\the producers'\\organizations};
\node[numc] (n13) at (1110,1487) {13};
\node[plab, anchor=west] (l13) at (1108,1472) {Microcredit};
\node[numc] (n14) at (507,215) {14};
\node[plab, anchor=west] (l14) at (505,197) {Replication};

% ---------- band labels
\node[rotate=180, align=center, font=\fontsize{21}{27}\selectfont\bfseries] (bl1) at (295,1690) {INSTITUTIONAL\\STRENGHENTEN};
\node[rotate=180, font=\fontsize{21}{27}\selectfont\bfseries] (bl2) at (625,1703) {TRAINING};
\node[rotate=180, align=center, font=\fontsize{21}{27}\selectfont\bfseries] (bl3) at (966,1688) {BUSINESS AND\\MARKETING};
\node[rotate=90, anchor=west, align=left, font=\fontsize{20}{22}\selectfont\bfseries] (bl4) at (1131,1722) {MANAGEMENT AND\\MONITORING};
\end{tikzpicture}
\end{document}
